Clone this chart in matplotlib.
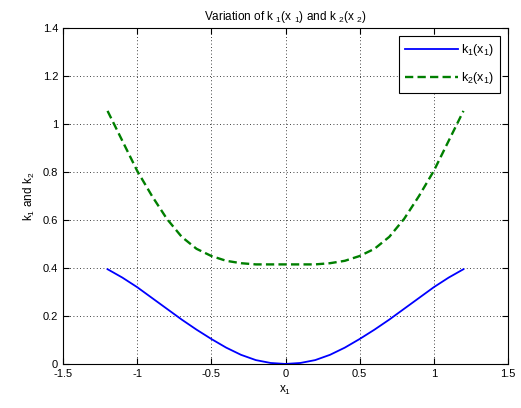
import matplotlib
matplotlib.use('Agg')
import matplotlib.pyplot as plt

plt.rcParams['font.family'] = ['Liberation Sans', 'DejaVu Sans']
plt.rcParams['mathtext.default'] = 'regular'

# values
x1 = [-1.2, -1.1, -1.0, -0.9, -0.8, -0.7, -0.6, -0.5, -0.4, -0.3, -0.2, -0.1, 0.0,
      0.1, 0.2, 0.3, 0.4, 0.5, 0.6, 0.7, 0.8, 0.9, 1.0, 1.1, 1.2]
k1 = [0.395, 0.36, 0.32, 0.275, 0.23, 0.185, 0.143, 0.104, 0.068, 0.038, 0.016, 0.004, 0.0,
      0.004, 0.016, 0.038, 0.068, 0.104, 0.143, 0.185, 0.23, 0.275, 0.32, 0.36, 0.395]
k2 = [1.055, 0.93, 0.805, 0.70, 0.605, 0.53, 0.48, 0.45, 0.43, 0.42, 0.415, 0.415, 0.415,
      0.415, 0.415, 0.42, 0.43, 0.45, 0.48, 0.53, 0.605, 0.70, 0.805, 0.93, 1.055]

fig = plt.figure(figsize=(5.21, 4.08), dpi=100)
ax = fig.add_axes([0.121, 0.108, 0.854, 0.823])

ax.plot(x1, k1, color='#0000ff', lw=1.3, label='k$_1$(x$_1$)')
ax.plot(x1, k2, color='#007f00', lw=1.7, ls=(0, (3.5, 1.8)), label='k$_2$(x$_1$)')

ax.set_xlim(-1.5, 1.5)
ax.set_ylim(0, 1.4)
ax.set_xticks([-1.5, -1, -0.5, 0, 0.5, 1, 1.5])
ax.set_xticklabels(['-1.5', '-1', '-0.5', '0', '0.5', '1', '1.5'])
ax.set_yticks([0, 0.2, 0.4, 0.6, 0.8, 1, 1.2, 1.4])
ax.set_yticklabels(['0', '0.2', '0.4', '0.6', '0.8', '1', '1.2', '1.4'])
ax.tick_params(direction='in', top=True, right=True, labelsize=8, length=4)
ax.grid(True, color='black', ls=(0, (1, 3)), lw=0.6)

ax.set_title('Variation of k $_1$(x $_1$) and k $_2$(x $_2$)', fontsize=8.5)
ax.set_xlabel('x$_1$', fontsize=8.5)
ax.set_ylabel('k$_1$ and k$_2$', fontsize=8.5)

leg = ax.legend(loc='upper right', fontsize=9, fancybox=False, framealpha=1,
                edgecolor='black', handlelength=4.2, labelspacing=1.0,
                handletextpad=0.3, borderaxespad=0.6, borderpad=0.5)
leg.get_frame().set_linewidth(0.8)

fig.savefig('out.png', dpi=100)
